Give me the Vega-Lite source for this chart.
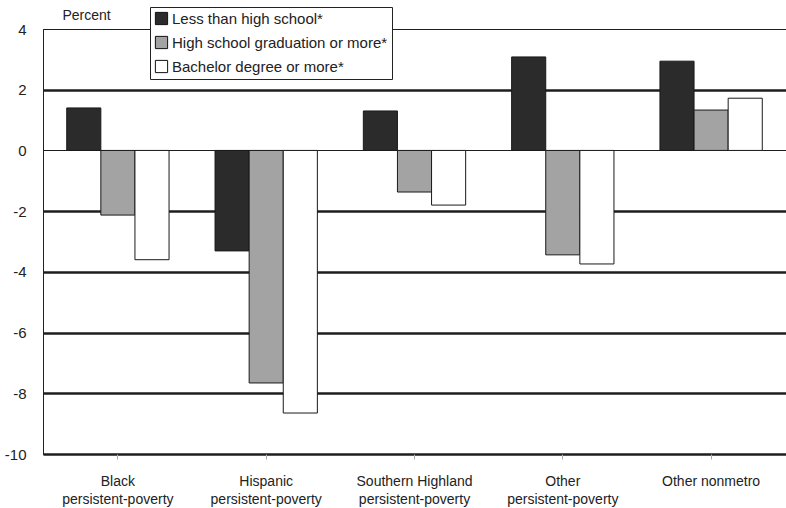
{
  "$schema": "https://vega.github.io/schema/vega-lite/v6.json",
  "width": 743,
  "height": 425,
  "autosize": "none",
  "padding": {"left": 43, "top": 29, "right": 0, "bottom": 54},
  "background": "white",
  "config": {
    "font": "Liberation Sans",
    "view": {"stroke": "#222", "strokeWidth": 1}
  },
  "data": {
    "values": [
      {"region": "Black persistent-poverty", "level": "Less than high school*", "value": 1.40},
      {"region": "Black persistent-poverty", "level": "High school graduation or more*", "value": -2.13},
      {"region": "Black persistent-poverty", "level": "Bachelor degree or more*", "value": -3.6},
      {"region": "Hispanic persistent-poverty", "level": "Less than high school*", "value": -3.31},
      {"region": "Hispanic persistent-poverty", "level": "High school graduation or more*", "value": -7.66},
      {"region": "Hispanic persistent-poverty", "level": "Bachelor degree or more*", "value": -8.65},
      {"region": "Southern Highland persistent-poverty", "level": "Less than high school*", "value": 1.30},
      {"region": "Southern Highland persistent-poverty", "level": "High school graduation or more*", "value": -1.37},
      {"region": "Southern Highland persistent-poverty", "level": "Bachelor degree or more*", "value": -1.8},
      {"region": "Other persistent-poverty", "level": "Less than high school*", "value": 3.08},
      {"region": "Other persistent-poverty", "level": "High school graduation or more*", "value": -3.44},
      {"region": "Other persistent-poverty", "level": "Bachelor degree or more*", "value": -3.74},
      {"region": "Other nonmetro", "level": "Less than high school*", "value": 2.94},
      {"region": "Other nonmetro", "level": "High school graduation or more*", "value": 1.33},
      {"region": "Other nonmetro", "level": "Bachelor degree or more*", "value": 1.72}
    ]
  },
  "mark": {"type": "bar", "stroke": "#1a1a1a", "strokeWidth": 1},
  "encoding": {
    "x": {
      "field": "region",
      "type": "nominal",
      "sort": null,
      "scale": {"paddingInner": 0.31, "paddingOuter": 0.16},
      "axis": {
        "title": null,
        "labelAngle": 0,
        "labelFontSize": 14,
        "labelColor": "#222",
        "labelPadding": 15,
        "labelLineHeight": 18,
        "labelBaseline": "top",
        "tickSize": 5,
        "tickColor": "#aaa",
        "domain": false,
        "labelExpr": "datum.label == 'Other nonmetro' ? datum.label : [replace(datum.label, ' persistent-poverty', ''), 'persistent-poverty']"
      }
    },
    "xOffset": {
      "field": "level",
      "type": "nominal",
      "sort": ["Less than high school*", "High school graduation or more*", "Bachelor degree or more*"],
      "scale": {"paddingInner": 0, "paddingOuter": 0}
    },
    "y": {
      "field": "value",
      "type": "quantitative",
      "scale": {"domain": [-10, 4], "nice": false, "zero": false},
      "axis": {
        "values": [-10, -8, -6, -4, -2, 0, 2, 4],
        "labelExpr": "'' + datum.value",
        "title": "Percent",
        "titleAngle": 0,
        "titleAlign": "left",
        "titleBaseline": "alphabetic",
        "titleX": 19,
        "titleY": -10,
        "titleFontSize": 14,
        "titleFontWeight": "normal",
        "titleColor": "#222",
        "labelFontSize": 15,
        "labelColor": "#222",
        "labelPadding": 17,
        "ticks": false,
        "domainColor": "#222",
        "grid": true,
        "gridColor": "#1e1e1e",
        "gridOpacity": 1,
        "gridWidth": {"condition": {"test": "datum.value == 0 || datum.value == 4", "value": 1}, "value": 2.4}
      }
    },
    "fill": {
      "field": "level",
      "type": "nominal",
      "sort": ["Less than high school*", "High school graduation or more*", "Bachelor degree or more*"],
      "scale": {
        "domain": ["Less than high school*", "High school graduation or more*", "Bachelor degree or more*"],
        "range": ["#2b2b2b", "#a3a3a3", "#ffffff"]
      },
      "legend": {
        "title": null,
        "orient": "none",
        "legendX": 107,
        "legendY": -22,
        "direction": "vertical",
        "symbolType": "square",
        "symbolSize": 150,
        "symbolStrokeColor": "#111",
        "symbolStrokeWidth": 1,
        "symbolOpacity": 1,
        "labelFontSize": 15,
        "labelLimit": 400,
        "labelColor": "#222",
        "labelOffset": 3,
        "rowPadding": 7,
        "padding": 4,
        "fillColor": "white",
        "strokeColor": "#222"
      }
    }
  }
}
